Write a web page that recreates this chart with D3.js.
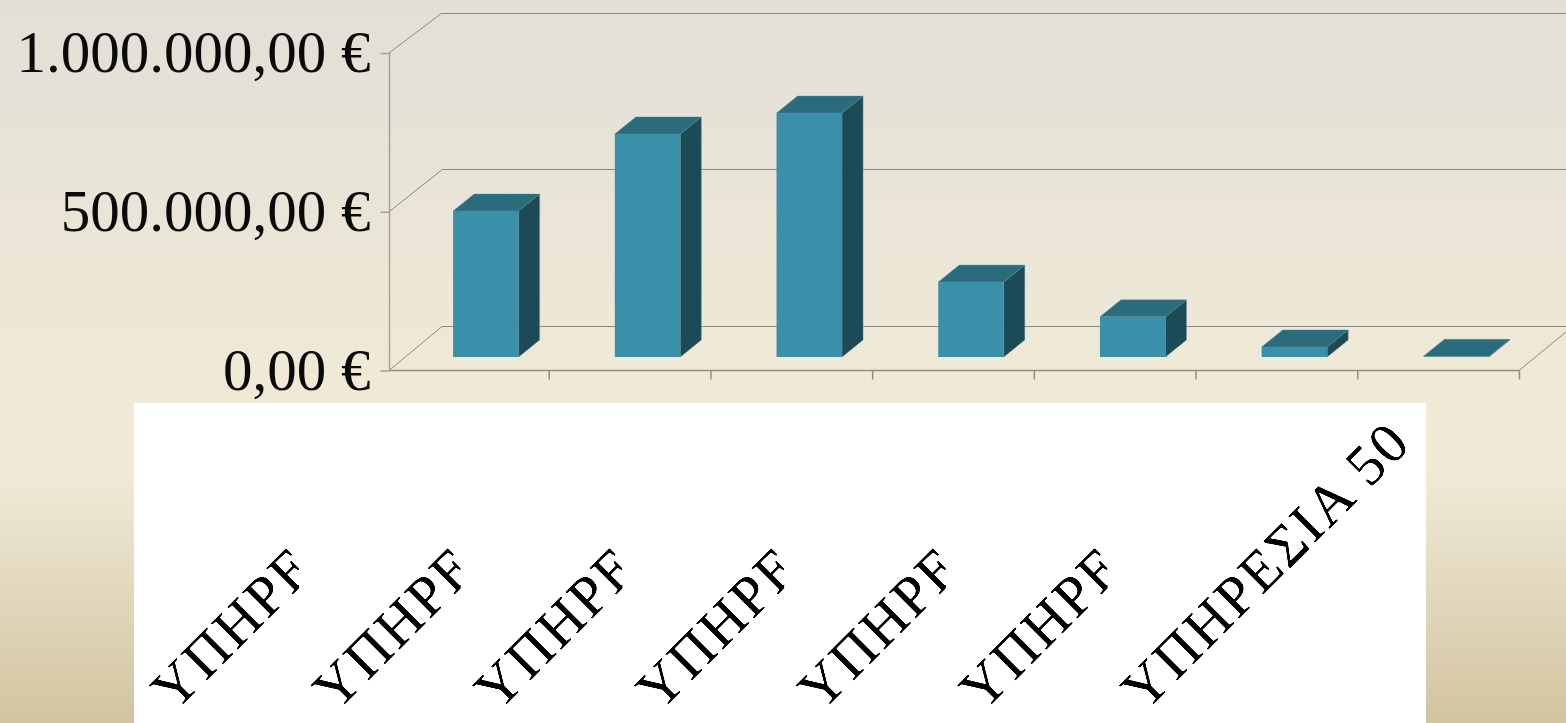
<!DOCTYPE html>
<html><head><meta charset="utf-8">
<style>html,body{margin:0;padding:0;overflow:hidden;background:#efe9d6}svg{display:block}</style>
<script src="https://cdn.jsdelivr.net/npm/d3@7/dist/d3.min.js"></script>
</head><body>
<script>
const categories = ["ΥΠΗΡΕ","ΥΠΗΡΕ","ΥΠΗΡΕ","ΥΠΗΡΕ","ΥΠΗΡΕ","ΥΠΗΡΕ","ΥΠΗΡΕΣΙΑ 50"];
const values = [462000, 706000, 772000, 237000, 127000, 32000, 2000];
const tickValues = [0, 500000, 1000000];
const tickLabels = ["0,00 €", "500.000,00 €", "1.000.000,00 €"];

const W = 1566, H = 723;
const FONT = "'Liberation Serif', serif";
const svg = d3.select("body").append("svg").attr("width", W).attr("height", H);
const defs = svg.append("defs");

const bg = defs.append("linearGradient").attr("id","bg").attr("x1",0).attr("x2",0).attr("y1",0).attr("y2",1);
[[0,"#e2dfd7"],[0.52,"#efe9d6"],[0.66,"#efe9d6"],[1,"#d2c4a0"]].forEach(([o,c])=>bg.append("stop").attr("offset",o).attr("stop-color",c));
const f = defs.append("filter").attr("id","crisp").attr("x",0).attr("y",0).attr("width",1).attr("height",1)
  .attr("filterUnits","objectBoundingBox").attr("color-interpolation-filters","sRGB");
f.append("feComponentTransfer").append("feFuncA").attr("type","linear").attr("slope",2.6).attr("intercept",-0.7);

svg.append("rect").attr("width",W).attr("height",H).attr("fill","url(#bg)");

const x = d3.scaleBand().domain(d3.range(categories.length)).range([387,1519]);
const yFront = d3.scaleLinear().domain([0,1000000]).range([370.5,53]);
const yBack  = d3.scaleLinear().domain([0,1000000]).range([326,12.5]);
const yBar   = d3.scaleLinear().domain([0,1000000]).range([357,41]);
const axisStart = 389, backX = 442, floorEnd = 1566;
const barW = 65.5, barDx = 18, depthX = 21, depthY = 17;

// gridlines on the back wall and left wall
const grid = svg.append("g").attr("stroke","#8a8a84").attr("stroke-width",1).attr("fill","none");
tickValues.forEach(v=>{
  grid.append("line").attr("x1",backX).attr("x2",floorEnd).attr("y1",Math.round(yBack(v))+.5).attr("y2",Math.round(yBack(v))+.5);
  grid.append("line").attr("x1",axisStart).attr("x2",backX).attr("y1",yFront(v)).attr("y2",yBack(v)+.5);
});
// floor right edge
grid.append("line").attr("x1",x.range()[1]).attr("y1",yFront(0)).attr("x2",floorEnd).attr("y2",332);

// value axis
const yAxis = d3.axisLeft(yFront).tickValues(tickValues)
  .tickFormat(d=>tickLabels[tickValues.indexOf(d)]).tickSize(9).tickPadding(10);
const gy = svg.append("g").attr("transform",`translate(${axisStart+.5},0)`).call(yAxis);
gy.selectAll("path,line").attr("stroke","#a2a29c").attr("stroke-width",1.5);
gy.select("path").attr("d",`M0,${yFront(1000000)}V${yFront(0)}`);
gy.selectAll("text").attr("font-family",FONT).attr("font-size",59).attr("fill","#0a0a0a")
  .attr("dy",18.5).attr("x",-19).attr("text-anchor","end");

// category axis
const xAxis = d3.axisBottom(d3.scaleLinear().domain([0,categories.length]).range(x.range()))
  .ticks(categories.length).tickFormat("").tickSize(9);
const gx = svg.append("g").attr("transform","translate(0,370.5)").call(xAxis);
gx.selectAll("path,line").attr("stroke","#8f8f89").attr("stroke-width",1.5);
gx.select("path").attr("d",`M${axisStart},0H${x.range()[1]}`);
gx.selectAll(".tick").filter(d=>d===0).remove();

// bars
const bars = svg.append("g").selectAll("g").data(values).join("g");
const xl = (d,i)=>x(i)+(x.bandwidth()-barW)/2+barDx;
const poly = pts=>pts.map(p=>p.join(",")).join(" ");
bars.append("polygon").attr("fill","#1d4a57").attr("stroke","#5f8d99").attr("stroke-width",.4)
  .attr("points",(d,i)=>{const a=xl(d,i)+barW,t=yBar(d),b=yBar(0);
    return poly([[a,t],[a+depthX,t-depthY],[a+depthX,b-depthY],[a,b]]);});
bars.append("polygon").attr("fill","#2a6b7c").attr("stroke","#5f8d99").attr("stroke-width",.4)
  .attr("points",(d,i)=>{const l=xl(d,i),t=yBar(d);
    return poly([[l,t],[l+barW,t],[l+barW+depthX,t-depthY],[l+depthX,t-depthY]]);});
bars.append("rect").attr("fill","#3a90a9")
  .attr("x",xl).attr("width",barW).attr("y",d=>yBar(d)).attr("height",d=>yBar(0)-yBar(d));

// white label panel
svg.append("rect").attr("x",134).attr("y",403).attr("width",1292).attr("height",H-403).attr("fill","#fff");

// rotated category labels, each cut off at the right of its slot
const labelX = i=>x(i)-212, labelY = 713, slotW = 124;
categories.forEach((c,i)=>{
  if(i<categories.length-1){
    defs.append("clipPath").attr("id","c"+i).append("rect")
      .attr("x",labelX(i)-30).attr("y",403).attr("width",slotW+30).attr("height",H-403);
  }
});
const labs = svg.append("g").selectAll("g").data(categories).join("g")
  .attr("clip-path",(d,i)=>i<categories.length-1?`url(#c${i})`:null);
labs.append("text").text(d=>d)
  .attr("transform",(d,i)=>`translate(${labelX(i)},${labelY}) rotate(-45)`)
  .attr("font-family",FONT).attr("font-size",57).attr("letter-spacing",2.5).attr("fill","#000")
  .attr("filter","url(#crisp)");
</script>
</body></html>
